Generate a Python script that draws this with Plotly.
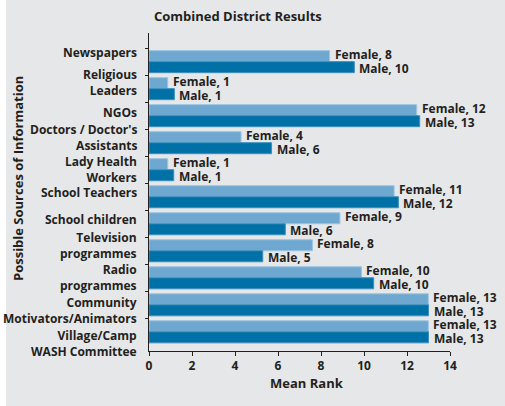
import plotly.graph_objects as go

categories = [
    "Newspapers", "Religious<br>Leaders", "NGOs", "Doctors / Doctor's<br>Assistants",
    "Lady Health<br>Workers", "School Teachers", "School children", "Television<br>programmes",
    "Radio<br>programmes", "Community<br>Motivators/Animators", "Village/Camp<br>WASH Committee",
]
female = [8.4, 0.87, 12.45, 4.28, 0.87, 11.4, 8.88, 7.6, 9.88, 12.99, 12.99]
male = [9.55, 1.18, 12.59, 5.7, 1.15, 11.6, 6.34, 5.29, 10.45, 13.0, 13.0]
x_ticks = [0, 2, 4, 6, 8, 10, 12, 14]

# vertical nudge (px, up positive) of each category label, as laid out in the original
label_nudge = [8.7, 5.7, 3, 5, 0.5, 4, 4.3, 5, 0, -5.7, -11.3]

FONT = "Open Sans"
TXT = "#231f20"
BG = "#e6e7e8"
LBL = 12

fig = go.Figure()
fig.add_trace(go.Bar(
    y=categories, x=female, orientation="h", name="Female",
    marker=dict(color="#6ea7cf", line=dict(color="#9cc4df", width=1)),
))
fig.add_trace(go.Bar(
    y=categories, x=male, orientation="h", name="Male",
    marker=dict(color="#0071a7", line=dict(color="#3d8fbd", width=1)),
))

annotations = []
for cat, f, m, nudge in zip(categories, female, male, label_nudge):
    annotations.append(dict(x=f, y=cat, xref="x", yref="y", text=f"<b>Female, {round(f)}</b>",
                            showarrow=False, xanchor="left", yanchor="middle", xshift=3, yshift=7.5,
                            font=dict(family=FONT, size=LBL, color=TXT)))
    annotations.append(dict(x=m, y=cat, xref="x", yref="y", text=f"<b>Male, {round(m)}</b>",
                            showarrow=False, xanchor="left", yanchor="middle", xshift=3, yshift=-6.5,
                            font=dict(family=FONT, size=LBL, color=TXT)))
    annotations.append(dict(x=(139 - 149) / 301, y=cat, xref="paper", yref="y",
                            text=f"<b>{cat}</b>", showarrow=False, xanchor="right", align="right",
                            yanchor="middle", yshift=nudge,
                            font=dict(family=FONT, size=12, color=TXT)))
annotations.append(dict(x=(307 - 149) / 301, y=(351 - 383) / 318, xref="paper", yref="paper",
                        text="<b>Mean Rank</b>", showarrow=False, xanchor="center", yanchor="middle",
                        font=dict(family=FONT, size=13, color=TXT)))
annotations.append(dict(x=(18 - 149) / 301, y=(351 - 179) / 318, xref="paper", yref="paper",
                        text="<b>Possible Sources of Information</b>", showarrow=False, textangle=-90,
                        xanchor="center", yanchor="middle",
                        font=dict(family=FONT, size=13, color=TXT)))

fig.update_layout(
    width=505, height=406,
    margin=dict(l=149, r=55, t=33, b=55, autoexpand=False),
    paper_bgcolor=BG, plot_bgcolor=BG,
    barmode="group", bargap=0.185, bargroupgap=0,
    showlegend=False,
    font=dict(family=FONT, color=TXT, size=12),
    title=dict(text="<b>Combined District Results</b>", x=154 / 505, xanchor="left",
               xref="container", y=1 - 16 / 406, yanchor="middle", yref="container",
               font=dict(family=FONT, size=13, color=TXT)),
    xaxis=dict(range=[0, 14], tickvals=x_ticks, showgrid=False, zeroline=False,
               showline=True, linecolor=TXT, linewidth=1, ticks="outside", ticklen=4,
               tickcolor=TXT, automargin=False,
               tickfont=dict(family=FONT, size=12, color=TXT, weight="bold")),
    yaxis=dict(type="category", range=[10.71, -1.06], showgrid=False, zeroline=False,
               showline=True, linecolor=TXT, linewidth=1, ticks="outside", ticklen=3,
               tickson="boundaries", tickcolor=TXT, automargin=False, showticklabels=False),
    annotations=annotations,
    shapes=[dict(type="rect", xref="paper", yref="paper",
                 x0=-149 / 301, x1=-143 / 301, y0=-1, y1=2,
                 fillcolor="white", line=dict(width=0), layer="above")],
)

fig.write_html("out.html")
